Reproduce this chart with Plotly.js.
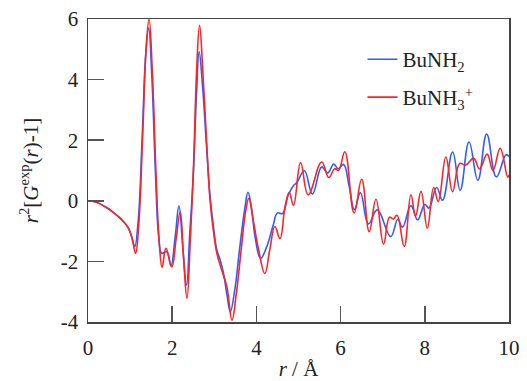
<!DOCTYPE html>
<html>
<head>
<meta charset="utf-8">
<script src="https://cdn.plot.ly/plotly-3.0.1.min.js"></script>
<style>html,body{margin:0;padding:0;background:#fff;}#chart{width:527px;height:381px;}</style>
</head>
<body>
<div id="chart"></div>
<script>
// BuNH2 (blue)
var rBlue = [0,0.2,0.4,0.6,0.8,0.96,1.04,1.11,1.19,1.29,1.37,1.44,1.52,1.6,1.68,1.75,1.87,1.97,2.07,2.16,2.25,2.34,2.42,2.5,2.58,2.64,2.72,2.82,2.9,2.98,3.06,3.14,3.22,3.3,3.38,3.48,3.6,3.72,3.8,3.88,3.98,4.1,4.25,4.4,4.5,4.62,4.76,4.88,4.96,5.14,5.33,5.55,5.69,5.84,5.94,6.07,6.2,6.33,6.47,6.66,6.87,7.19,7.36,7.47,7.67,7.83,8.0,8.1,8.28,8.42,8.66,8.84,9.05,9.26,9.47,9.7,9.93,10];
var vBlue = [0,-0.05,-0.19,-0.38,-0.62,-0.9,-1.2,-1.51,-0.7,2.2,4.8,5.7,4.0,1.0,-1.2,-1.73,-1.68,-2.14,-1.2,-0.17,-1.5,-2.78,-1.0,0.8,3.6,4.92,3.8,1.7,0.14,-0.85,-1.62,-1.95,-2.4,-3.1,-3.66,-3.0,-1.6,-0.3,0.28,-0.2,-1.3,-1.9,-1.5,-0.8,-0.4,-0.42,0.2,0.5,0.6,0.99,0.22,1.12,0.92,1.21,1.06,1.2,0.5,-0.29,0.27,-0.76,-0.3,-1.18,-0.61,-0.87,-0.16,-0.63,-0.12,-0.24,0.44,0.02,1.61,0.35,1.94,0.68,2.2,0.79,1.52,1.46];
// BuNH3+ (red)
var rRed = [0,0.2,0.4,0.6,0.8,0.96,1.05,1.13,1.2,1.3,1.38,1.45,1.53,1.61,1.69,1.76,1.85,1.99,2.09,2.19,2.27,2.35,2.43,2.51,2.58,2.65,2.73,2.82,2.9,2.98,3.06,3.18,3.3,3.42,3.52,3.64,3.75,3.82,3.92,4.05,4.2,4.32,4.44,4.56,4.68,4.78,4.88,5.05,5.23,5.55,5.72,5.86,5.95,6.1,6.32,6.5,6.68,6.84,7.02,7.16,7.25,7.34,7.51,7.67,7.78,7.91,8.06,8.21,8.32,8.5,8.66,8.83,8.97,9.16,9.3,9.48,9.62,9.79,9.97,10];
var vRed = [0,-0.05,-0.19,-0.38,-0.62,-0.9,-1.25,-1.73,-0.9,2.2,5.0,6.0,4.2,1.1,-1.3,-2.2,-1.57,-2.18,-1.3,-0.36,-1.9,-3.22,-1.3,1.3,4.3,5.79,4.2,1.9,0.0,-1.0,-1.73,-2.3,-2.85,-3.94,-3.1,-1.6,-0.3,0.08,-0.6,-1.6,-2.4,-1.6,-0.85,-1.25,-0.2,0.28,-0.15,1.26,0.2,1.28,0.77,1.06,1.0,1.62,-0.4,0.71,-1.02,0.05,-1.43,-0.54,-0.6,-0.48,-1.51,0.2,-0.5,0.31,-0.9,0.44,-0.02,1.44,0.3,1.23,1.18,1.4,1.05,1.54,1.0,1.73,0.78,0.85];

var xTickVals = [0,2,4,6,8,10];
var xTickText = ['0','2','4','6','8','10'];
var yTickVals = [-4,-2,0,2,4,6];
var yTickText = ['-4','-2','0','2','4','6'];

var serif = '"Liberation Serif", "Times New Roman", serif';

var traces = [
  {x: rBlue, y: vBlue, type: 'scatter', mode: 'lines', name: 'BuNH<sub>2</sub>',
   line: {color: '#2f5cff', width: 1.6, shape: 'spline', smoothing: 1.2}, legend: 'legend'},
  {x: rRed, y: vRed, type: 'scatter', mode: 'lines', name: 'BuNH<sub>3</sub><sup>+</sup>',
   line: {color: '#ff2424', width: 1.6, shape: 'spline', smoothing: 1.2}, legend: 'legend2'}
];

var axisCommon = {
  showgrid: false, zeroline: false, showline: true, mirror: true,
  linecolor: '#444', linewidth: 1.5,
  ticks: 'inside', ticklen: 16, tickwidth: 1.5, tickcolor: '#555',
  tickfont: {family: serif, size: 21, color: '#222'}
};

var layout = {
  width: 527, height: 381,
  margin: {l: 88, r: 18, t: 19, b: 59},
  paper_bgcolor: '#fff', plot_bgcolor: '#fff',
  font: {family: serif, color: '#222'},
  xaxis: Object.assign({}, axisCommon, {
    range: [0, 10], tickmode: 'array', tickvals: xTickVals, ticktext: xTickText,
    ticklabelstandoff: 6,
    title: {text: '<i>r</i> / Å', font: {family: serif, size: 21, color: '#222'}, standoff: 6}
  }),
  yaxis: Object.assign({}, axisCommon, {
    range: [-4, 6], tickmode: 'array', tickvals: yTickVals, ticktext: yTickText,
    ticklabelstandoff: 4,
    title: {text: '<i>r</i><sup>2</sup>[<i>G</i><sup>exp</sup>(<i>r</i>)-1]', font: {family: serif, size: 21, color: '#222'}, standoff: 16}
  }),
  legend: {x: 0.652, y: 0.866, xanchor: 'left', yanchor: 'middle', bgcolor: 'rgba(0,0,0,0)',
           font: {family: serif, size: 21, color: '#222'}},
  legend2: {x: 0.652, y: 0.741, xanchor: 'left', yanchor: 'middle', bgcolor: 'rgba(0,0,0,0)',
           font: {family: serif, size: 21, color: '#222'}},
  showlegend: true
};

Plotly.newPlot('chart', traces, layout, {displayModeBar: false, staticPlot: true});
</script>
</body>
</html>
